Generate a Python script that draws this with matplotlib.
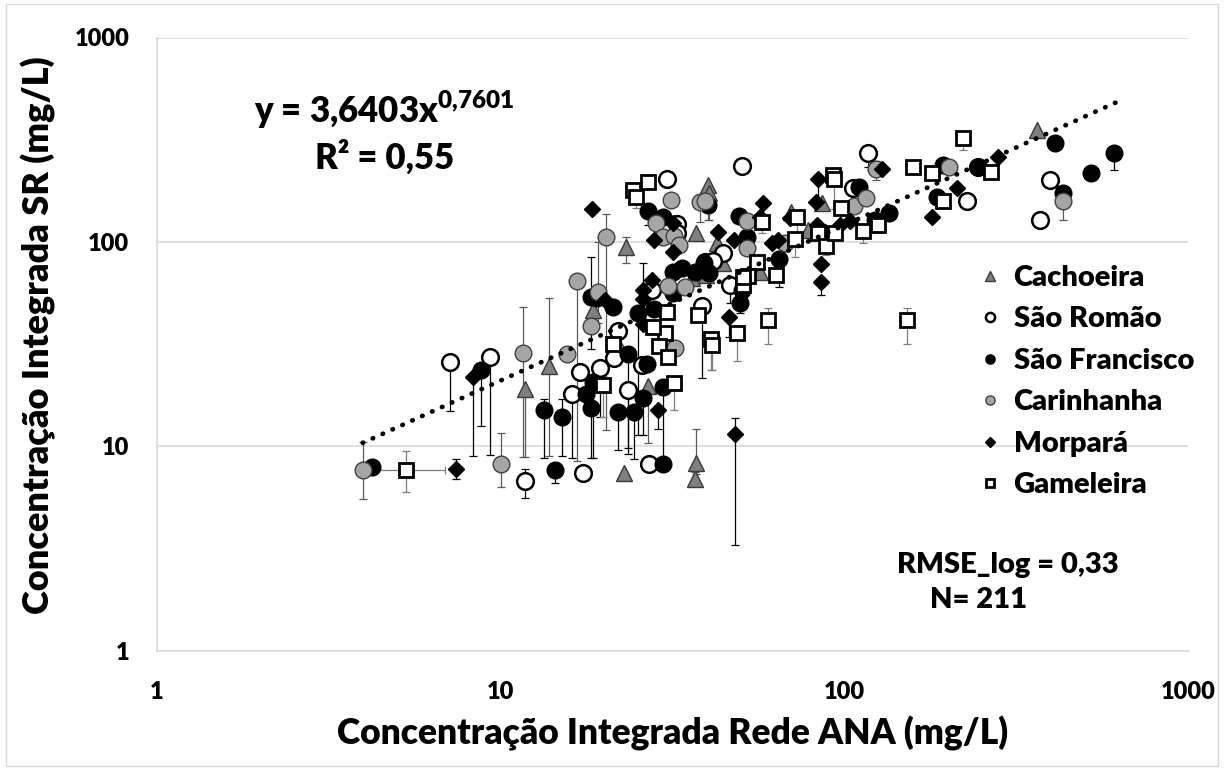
import matplotlib
matplotlib.use("Agg")
import matplotlib.pyplot as plt
import numpy as np

W = "heavy"
plt.rcParams["font.family"] = ["Lato", "DejaVu Sans"]
plt.rcParams["font.weight"] = W
plt.rcParams["mathtext.fontset"] = "custom"
plt.rcParams["mathtext.rm"] = "Lato:heavy"
plt.rcParams["mathtext.bf"] = "Lato:heavy"

# ---- data ----
cach_x = [363, 40.1, 40.5, 23.2, 37.0, 42.6, 70.0, 78.4, 86.0, 44.4, 57.0, 13.8, 11.8,
          18.6, 22.3, 26.8, 22.9, 37.0, 36.7, 36.0, 39.7]
cach_y = [354, 190, 174, 94.5, 111, 98.9, 140, 114, 155, 78.9, 71.3, 24.7, 19.0,
          46.4, 30.2, 19.7, 7.38, 8.26, 6.9, 66.6, 68.9]
cach_lo = [354, 128, 128, 78.6, 111, 98.9, 140, 114, 155, 78.9, 71.3, 9.0, 8.9,
           46.4, 30.2, 10.4, 7.38, 7.3, 6.9, 66.6, 68.9]
cach_hi = [354, 190, 174, 106, 111, 98.9, 140, 114, 155, 78.9, 71.3, 53, 19.0,
           46.4, 30.2, 19.7, 7.38, 12.2, 7.5, 66.6, 68.9]

rom_x = [117, 50.4, 30.5, 397, 371, 227, 106, 32.6, 32.6, 44.4, 39.4, 41.5, 46.5, 27.5,
         38.6, 22.0, 21.4, 25.8, 19.5, 17.0, 16.1, 23.4, 17.4, 27.0, 11.8, 7.12, 9.31, 245]
rom_y = [273, 236, 204, 201, 128, 159, 184, 122, 111, 88.3, 79.8, 81, 61.5, 58.2,
         48.6, 36.6, 27.0, 25.0, 24.1, 23.0, 18.0, 18.8, 7.38, 8.16, 6.74, 25.8, 27.3, 233]
rom_lo = [233, 236, 186, 201, 128, 144, 184, 122, 111, 88.3, 79.8, 81, 50, 58.2,
          21.5, 36.6, 27.0, 25.0, 13.9, 23.0, 8.8, 9.2, 6.8, 8.16, 5.6, 14.8, 9.1, 233]
rom_hi = [273, 236, 204, 201, 128, 159, 184, 122, 111, 88.3, 79.8, 81, 61.5, 58.2,
          48.6, 36.6, 27.0, 25.0, 24.1, 23.0, 18.0, 18.8, 8.0, 8.16, 7.7, 25.8, 27.3, 233]

sf_x = [410, 609, 522, 433, 194, 245, 186, 110, 123, 135, 26.8, 29.7, 40.2, 49.4, 52.1,
        64.5, 49.7, 50.4, 31.7, 33.7, 36.7, 39.0, 40.5, 31.7, 28.0, 25.1, 21.2, 18.3,
        19.1, 23.5, 26.6, 18.6, 17.7, 18.3, 15.1, 13.4, 14.4, 22.0, 24.5, 25.9, 29.7,
        29.7, 8.77, 4.22]
sf_y = [306, 273, 218, 174, 238, 233, 166, 186, 128, 139, 142, 133, 152, 134, 106,
        82.6, 50.2, 58.2, 71.3, 74.6, 71.3, 78.9, 70.4, 56.2, 47.0, 44.9, 48.0, 53.7,
        53.0, 28.3, 25.3, 20.6, 18.0, 15.4, 13.9, 15.0, 7.63, 14.7, 14.7, 17.2, 19.5,
        8.16, 23.6, 7.89]
sf_lo = [306, 225, 218, 174, 238, 233, 166, 186, 128, 139, 121, 133, 152, 134, 106,
         60, 45, 58.2, 71.3, 74.6, 71.3, 78.9, 70.4, 56.2, 47.0, 11.3, 48.0, 30,
         53.0, 9.8, 25.3, 8.8, 18.0, 8.8, 9.0, 8.8, 6.6, 9.6, 8.7, 11.3, 7.6,
         7.7, 12.6, 7.3]
sf_hi = [306, 273, 218, 174, 238, 233, 166, 186, 128, 139, 142, 133, 152, 134, 106,
         82.6, 50.2, 58.2, 71.3, 74.6, 71.3, 78.9, 70.4, 56.2, 47.0, 44.9, 48.0, 84,
         53.0, 28.3, 25.3, 20.6, 18.0, 15.4, 17.1, 17.1, 8.3, 14.7, 14.7, 17.2, 19.5,
         8.16, 25.5, 8.5]

car_x = [433, 201, 124, 107, 116, 38.0, 39.4, 20.3, 28.3, 31.3, 29.7, 32.0, 33.0, 52.1,
         52.1, 67.2, 16.7, 19.2, 30.7, 34.4, 18.3, 15.6, 32.2, 11.6, 10.0, 3.97]
car_y = [159, 233, 228, 149, 164, 157, 159, 106, 124, 161, 106, 107, 96.7, 127,
         93.4, 98.9, 64.4, 56.9, 61.0, 60.0, 38.7, 28.3, 30.2, 28.6, 8.16, 7.63]
car_lo = [128, 233, 201, 149, 164, 125, 159, 12, 124, 161, 106, 107, 96.7, 102,
          93.4, 98.9, 8.5, 40, 61.0, 60.0, 38.7, 28.3, 30.2, 8.9, 6.3, 5.5]
car_hi = [159, 233, 250, 149, 164, 157, 159, 137, 124, 161, 106, 107, 96.7, 127,
          93.4, 98.9, 64.4, 99.6, 61.0, 60.0, 38.7, 28.3, 30.2, 48, 11.6, 10.5]

mor_x = [129, 280, 213, 180, 18.4, 27.9, 31.7, 31.7, 42.9, 47.7, 58.0, 56.8, 61.5, 64.3,
         69.3, 83.2, 87.8, 83.9, 82.6, 85.5, 85.5, 96.9, 104, 27.5, 25.9, 25.9, 20.1,
         25.9, 46.2, 28.7, 48.1, 8.3, 7.41]
mor_y = [228, 261, 184, 133, 144, 102, 124, 89, 112, 102, 155, 133, 98.9, 102,
         131, 121, 112, 204, 157, 78, 63.7, 121, 127, 65, 58.2, 52.7, 51.8,
         39.6, 42.9, 15.0, 11.5, 21.8, 7.71]
mor_lo = [228, 261, 184, 133, 144, 102, 124, 89, 112, 102, 155, 133, 98.9, 102,
          131, 121, 112, 157, 157, 78, 55, 121, 127, 65, 58.2, 52.7, 51.8,
          39.6, 34.2, 12.2, 3.27, 9.0, 6.9]
mor_hi = [228, 261, 184, 133, 144, 102, 124, 89, 112, 102, 155, 133, 98.9, 102,
          131, 121, 112, 204, 157, 78, 63.7, 121, 127, 65, 78.6, 52.7, 51.8,
          39.6, 42.9, 15.0, 13.7, 21.8, 8.7]

gam_x = [221, 158, 180, 267, 194, 26.8, 24.3, 24.8, 57.6, 73.0, 71.8, 83.9, 92.7, 93.3,
         97.8, 88.4, 93.9, 113, 125, 152, 60.0, 55.7, 63.2, 52.4, 50.7, 50.7, 48.7,
         41.0, 41.3, 37.5, 30.5, 30.1, 27.7, 28.9, 30.7, 21.2, 19.8, 32.0, 5.3]
gam_y = [323, 233, 218, 220, 159, 197, 180, 166, 125, 133, 103.5, 111, 213, 204,
         147, 95.6, 111, 113, 121, 41.5, 41.5, 79.8, 68.9, 68.1, 61.5, 67.4, 35.8,
         33.4, 31.2, 43.9, 45.4, 35.8, 38.3, 30.9, 27.3, 31.6, 19.9, 20.4, 7.63]
gam_lo = [280, 233, 218, 220, 159, 197, 180, 147, 111, 111, 84, 111, 213, 144,
          121, 86, 111, 98.7, 121, 31.6, 31.6, 79.8, 68.9, 68.1, 61.5, 67.4, 26,
          23.5, 23.5, 43.9, 45.4, 35.8, 38.3, 30.9, 27.3, 31.6, 13.9, 15, 5.95]
gam_hi = [323, 233, 218, 220, 159, 197, 180, 166, 125, 133, 103.5, 111, 213, 204,
          147, 95.6, 111, 113, 121, 47.5, 47.5, 79.8, 68.9, 68.1, 61.5, 67.4, 35.8,
          33.4, 31.2, 43.9, 45.4, 35.8, 38.3, 30.9, 27.3, 31.6, 19.9, 20.4, 9.45]
gam_xlo = gam_x[:-1] + [3.97]
gam_xhi = gam_x[:-1] + [6.9]

fit_a, fit_b = 3.6403, 0.7601

series = [
    ("Cachoeira", cach_x, cach_y, cach_lo, cach_hi, dict(marker="^", ms=12, mfc="#7f7f7f", mec="#3a3a3a", mew=1.0), "#595959"),
    ("São Romão", rom_x, rom_y, rom_lo, rom_hi, dict(marker="o", ms=12, mfc="white", mec="black", mew=1.8), "black"),
    ("São Francisco", sf_x, sf_y, sf_lo, sf_hi, dict(marker="o", ms=12, mfc="black", mec="black", mew=1.0), "black"),
    ("Carinhanha", car_x, car_y, car_lo, car_hi, dict(marker="o", ms=12, mfc="#a5a5a5", mec="#404040", mew=1.0), "#595959"),
    ("Morpará", mor_x, mor_y, mor_lo, mor_hi, dict(marker="D", ms=8.5, mfc="black", mec="black", mew=1.0), "black"),
    ("Gameleira", gam_x, gam_y, gam_lo, gam_hi, dict(marker="s", ms=9.5, mfc="white", mec="black", mew=2.0), "#7f7f7f"),
]

fig = plt.figure(figsize=(12.24, 7.7), dpi=100)
ax = fig.add_axes([157 / 1224, 1 - 650.5 / 770, 1031 / 1224, 613 / 770])

handles = []
for name, x, y, lo, hi, style, ecol in series:
    x = np.array(x, float)
    y = np.array(y, float)
    yerr = [y - np.array(lo, float), np.array(hi, float) - y]
    xerr = None
    if name == "Gameleira":
        xerr = [x - np.array(gam_xlo), np.array(gam_xhi) - x]
    ax.errorbar(x, y, yerr=yerr, xerr=xerr, fmt="none", ecolor=ecol,
                elinewidth=0.9, capsize=3, capthick=0.9, zorder=2)
    h, = ax.plot(x, y, linestyle="none", zorder=3, label=name, **style)
    handles.append(h)

all_x = np.concatenate([s[1] for s in series])
xf = np.logspace(np.log10(all_x.min()), np.log10(all_x.max() * 1.02), 200)
ax.plot(xf, fit_a * xf ** fit_b, color="black", linestyle=(0, (0.1, 2.2)),
        linewidth=3.4, dash_capstyle="round", zorder=4)

ax.set_xscale("log")
ax.set_yscale("log")
ax.set_xlim(1, 1000)
ax.set_ylim(1, 1000)
ax.set_xticks([1, 10, 100, 1000])
ax.set_xticklabels(["1", "10", "100", "1000"])
ax.set_yticks([1, 10, 100, 1000])
ax.set_yticklabels(["1", "10", "100", "1000"])
ax.minorticks_off()
ax.tick_params(length=0, labelsize=17, pad=22)
ax.tick_params(axis="y", pad=20)
for lab in ax.get_xticklabels() + ax.get_yticklabels():
    lab.set_fontweight(W)
ax.grid(True, axis="y", color="#d9d9d9", linewidth=1.2)
for s in ["top", "right"]:
    ax.spines[s].set_visible(False)
for s in ["left", "bottom"]:
    ax.spines[s].set_color("#d9d9d9")
    ax.spines[s].set_linewidth(1.2)

fig.text(38 / 1224, 1 - 335 / 770, "Concentração Integrada SR (mg/L)", rotation=90,
         ha="center", va="center", fontsize=26, fontweight=W)
fig.text(673 / 1224, 1 - 733 / 770, "Concentração Integrada Rede ANA (mg/L)",
         ha="center", va="center", fontsize=25.5, fontweight=W)

fig.text(384 / 1224, 1 - 110 / 770, r"y = 3,6403x$^{0{,}7601}$", ha="center",
         va="center", fontsize=25, fontweight=W)
fig.text(385 / 1224, 1 - 157 / 770, "R² = 0,55", ha="center", va="center",
         fontsize=25, fontweight=W)
fig.text(1008 / 1224, 1 - 565 / 770, "RMSE_log = 0,33", ha="center", va="center",
         fontsize=21, fontweight=W)
fig.text(979 / 1224, 1 - 600 / 770, "N= 211", ha="center", va="center",
         fontsize=21, fontweight=W)

leg = fig.legend(handles=handles, loc="upper left",
                 bbox_to_anchor=(980 / 1224, 1 - 265 / 770), frameon=False,
                 prop=dict(size=21, weight=W), markerscale=0.55,
                 handlelength=0.7, handletextpad=0.45, labelspacing=0.53,
                 borderpad=0, borderaxespad=0)

fig.patches.append(plt.Rectangle((0.005, 0.005), 0.99, 0.99, transform=fig.transFigure,
                                 fill=False, edgecolor="#d9d9d9", linewidth=1))

fig.savefig("out.png", dpi=100)
